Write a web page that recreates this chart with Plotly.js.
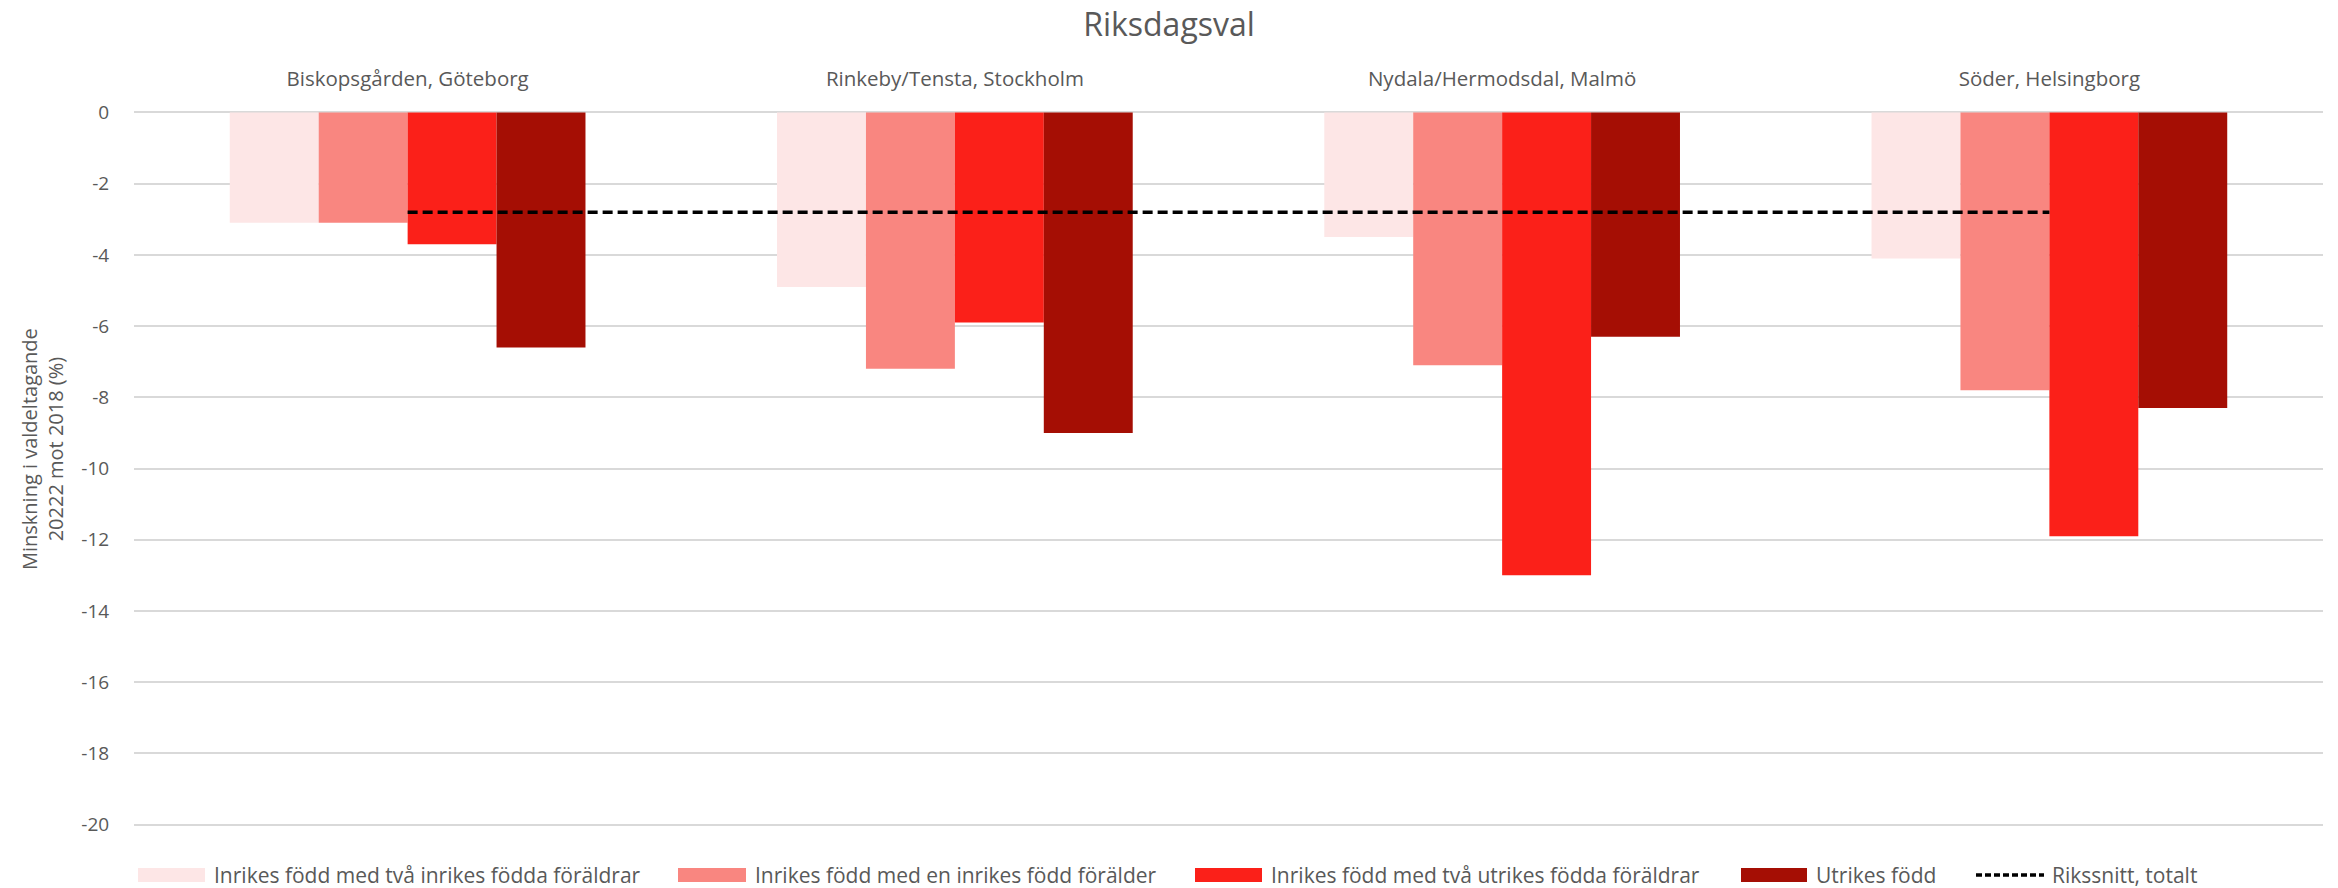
<!DOCTYPE html>
<html>
<head>
<meta charset="utf-8">
<script src="https://cdn.plot.ly/plotly-3.0.1.min.js"></script>
<style>html,body{margin:0;padding:0;background:#fff;}#chart{width:2338px;height:888px;}</style>
</head>
<body>
<div id="chart"></div>
<script>
const categories = ["Biskopsgården, Göteborg", "Rinkeby/Tensta, Stockholm", "Nydala/Hermodsdal, Malmö", "Söder, Helsingborg"];
const seriesNames = [
  "Inrikes född med två inrikes födda föräldrar",
  "Inrikes född med en inrikes född förälder",
  "Inrikes född med två utrikes födda föräldrar",
  "Utrikes född"
];
const inrikesTvaInrikes = [-3.1, -4.9, -3.5, -4.1];
const inrikesEnInrikes = [-3.1, -7.2, -7.1, -7.8];
const inrikesTvaUtrikes = [-3.7, -5.9, -13.0, -11.9];
const utrikesFodd = [-6.6, -9.0, -6.3, -8.3];
const rikssnittName = "Rikssnitt, totalt";
const rikssnitt = [-2.8, -2.8, -2.8, -2.8];
const yTicks = [0, -2, -4, -6, -8, -10, -12, -14, -16, -18, -20];

const colors = ["#FDE6E6", "#F98680", "#FB2019", "#A50E04"];
const values = [inrikesTvaInrikes, inrikesEnInrikes, inrikesTvaUtrikes, utrikesFodd];

const traces = values.map((v, i) => ({
  type: "bar",
  name: seriesNames[i],
  x: categories,
  y: v,
  marker: {color: colors[i], line: {width: 0}},
  hoverinfo: "y"
}));
traces.push({
  type: "scatter",
  mode: "lines",
  name: rikssnittName,
  x: categories,
  y: rikssnitt,
  line: {color: "#000000", width: 3.5, dash: "10px,5px"}
});

// plot area geometry (pixels)
const W = 2338, H = 888;
const mL = 134, mR = 15, mT = 111, mB = 62;
const pw = W - mL - mR, ph = H - mT - mB;
const px = v => (v - mL) / pw;
const py = v => (H - mB - v) / ph;

const font = "'Open Sans', 'Liberation Sans', sans-serif";
const grey = "#595959";

// custom legend (wide swatches like the original)
const legendY = 875;
const legendItems = [
  {x0: 138, x1: 205, tx: 213},
  {x0: 678, x1: 746, tx: 754},
  {x0: 1195, x1: 1262, tx: 1270},
  {x0: 1741, x1: 1807, tx: 1815},
  {x0: 1976, x1: 2044, tx: 2051}
];
const legendNames = seriesNames.concat([rikssnittName]);
const shapes = [];
const annotations = [];
legendItems.forEach((it, i) => {
  if (i < 4) {
    shapes.push({type: "rect", xref: "paper", yref: "paper", x0: px(it.x0), x1: px(it.x1), y0: py(legendY + 7), y1: py(legendY - 7), fillcolor: colors[i], line: {width: 0}});
  } else {
    shapes.push({type: "line", xref: "paper", yref: "paper", x0: px(it.x0), x1: px(it.x1), y0: py(legendY), y1: py(legendY), line: {color: "#000", width: 3.5, dash: "6px,3px"}});
  }
  annotations.push({xref: "paper", yref: "paper", x: px(it.tx), y: py(legendY), xanchor: "left", yanchor: "middle", text: legendNames[i], showarrow: false, borderpad: 0, font: {family: font, size: 21, color: grey}});
});
annotations.push({
  xref: "paper", yref: "paper", x: px(42), y: py(449), xanchor: "center", yanchor: "middle",
  text: "Minskning i valdeltagande<br>20222 mot 2018 (%)", textangle: -90, showarrow: false,
  font: {family: font, size: 20, color: grey}
});

const layout = {
  width: W,
  height: H,
  paper_bgcolor: "#ffffff",
  plot_bgcolor: "#ffffff",
  margin: {l: mL, r: mR, t: mT, b: mB},
  font: {family: font, color: grey, size: 18},
  title: {text: "Riksdagsval", font: {family: font, size: 32, color: grey}, x: 0.5, xref: "container", xanchor: "center", y: 0.972, yref: "container", yanchor: "middle"},
  barmode: "group",
  bargap: 0.35,
  bargroupgap: 0,
  showlegend: false,
  shapes: shapes,
  annotations: annotations,
  xaxis: {
    type: "category",
    side: "top",
    showgrid: false,
    zeroline: false,
    showline: false,
    ticks: "outside",
    ticklen: 16,
    tickcolor: "rgba(0,0,0,0)",
    tickfont: {family: font, size: 20.5, color: grey}
  },
  yaxis: {
    range: [-20.04, 0.04],
    tickvals: yTicks,
    ticktext: yTicks.map(String),
    showgrid: true,
    gridcolor: "#D9D9D9",
    gridwidth: 2,
    zeroline: false,
    showline: false,
    ticks: "outside",
    ticklen: 20,
    tickcolor: "rgba(0,0,0,0)",
    tickfont: {family: font, size: 19, color: grey}
  }
};

Plotly.newPlot("chart", traces, layout, {displayModeBar: false, responsive: false});
</script>
</body>
</html>
